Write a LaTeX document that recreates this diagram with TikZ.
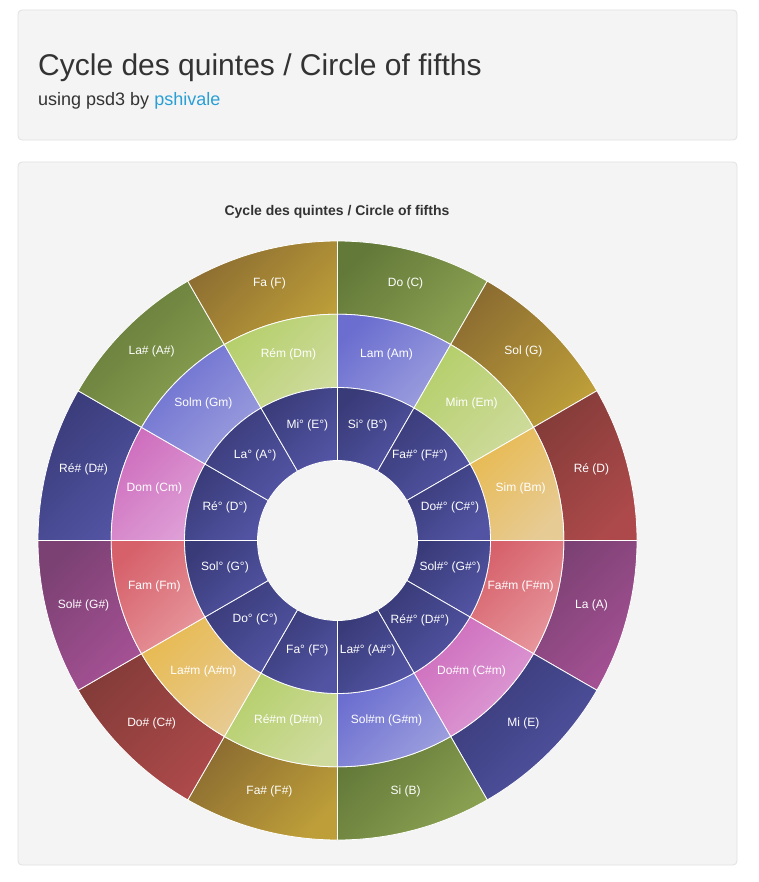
\documentclass[tikz,border=0pt]{standalone}
\usepackage{fontspec}
\setmainfont{Liberation Sans}
\usetikzlibrary{positioning}
\definecolor{wellbg}{HTML}{F4F4F4}
\definecolor{wellline}{HTML}{E1E1E1}
\definecolor{inktext}{HTML}{333333}
\definecolor{linkblue}{HTML}{2A9FD6}
\definecolor{greenA}{HTML}{637939}
\definecolor{greenB}{HTML}{8CA252}
\definecolor{goldA}{HTML}{8C6D31}
\definecolor{goldB}{HTML}{BD9E39}
\definecolor{redA}{HTML}{843C39}
\definecolor{redB}{HTML}{AD494A}
\definecolor{purpA}{HTML}{7B4173}
\definecolor{purpB}{HTML}{A55194}
\definecolor{blueA}{HTML}{393B79}
\definecolor{blueB}{HTML}{5254A3}
\definecolor{lavA}{HTML}{6B6ECF}
\definecolor{lavB}{HTML}{9C9EDE}
\definecolor{limeA}{HTML}{B5CF6B}
\definecolor{limeB}{HTML}{CEDB9C}
\definecolor{sandA}{HTML}{E7BA52}
\definecolor{sandB}{HTML}{E7CB94}
\definecolor{roseA}{HTML}{D6616B}
\definecolor{roseB}{HTML}{E7969C}
\definecolor{pinkA}{HTML}{CE6DBD}
\definecolor{pinkB}{HTML}{DE9ED6}

\begin{document}
\begin{tikzpicture}[x=1pt, y=-1pt,
  panel/.style={draw=wellline, fill=wellbg, rounded corners=4pt, line width=0.8pt},
  slice/.style={draw=white, line width=0.8pt, top color=#1A, bottom color=#1B, shading angle=45},
  keylabel/.style={text=white, font=\fontsize{12}{14}\selectfont, inner sep=0pt, yshift=3pt}
]
  \useasboundingbox[fill=white] (0,0) rectangle (758,882);

  % Header panel
  \draw[panel] (18,10) rectangle (737,140);
  \node[anchor=base west, inner sep=0pt, text=inktext, font=\fontsize{30}{36}\selectfont] (pagetitle) at (38,76)
    {Cycle des quintes / Circle of fifths};
  \node[anchor=base west, inner sep=0pt, text=inktext, font=\fontsize{18}{22}\selectfont] (byline) at (38,106)
    {using psd3 by \textcolor{linkblue}{pshivale}};

  % Chart panel
  \draw[panel] (18,162) rectangle (737,865);
  \node[anchor=base, inner sep=0pt, text=inktext, font=\bfseries\fontsize{14}{17}\selectfont] (charttitle) at (337,216)
    {Cycle des quintes / Circle of fifths};

  \coordinate (wheel) at (337.5,540.5);
  \begin{scope}[shift={(wheel)}]
    % Outer ring: major keys
    \foreach \lbl/\col [count=\i from 0] in {Do (C)/green, Sol (G)/gold, Ré (D)/red, La (A)/purp, Mi (E)/blue,
        Si (B)/green, Fa\# (F\#)/gold, Do\# (C\#)/red, Sol\# (G\#)/purp, Ré\# (D\#)/blue, La\# (A\#)/green, Fa (F)/gold} {
      \pgfmathsetmacro\a{-90+30*\i}
      \pgfmathsetmacro\b{\a+30}
      \pgfmathsetmacro\m{\a+15}
      \path[slice=\col] (\a:226.3) -- (\a:299.5) arc[start angle=\a, end angle=\b, radius=299.5]
        -- (\b:226.3) arc[start angle=\b, end angle=\a, radius=226.3] -- cycle;
      \node[keylabel] (major\i) at (\m:262.9) {\lbl};
    }
    % Middle ring: minor keys
    \foreach \lbl/\col [count=\i from 0] in {Lam (Am)/lav, Mim (Em)/lime, Sim (Bm)/sand, Fa\#m (F\#m)/rose, Do\#m (C\#m)/pink,
        Sol\#m (G\#m)/lav, Ré\#m (D\#m)/lime, La\#m (A\#m)/sand, Fam (Fm)/rose, Dom (Cm)/pink, Solm (Gm)/lav, Rém (Dm)/lime} {
      \pgfmathsetmacro\a{-90+30*\i}
      \pgfmathsetmacro\b{\a+30}
      \pgfmathsetmacro\m{\a+15}
      \path[slice=\col] (\a:153) -- (\a:226.3) arc[start angle=\a, end angle=\b, radius=226.3]
        -- (\b:153) arc[start angle=\b, end angle=\a, radius=153] -- cycle;
      \node[keylabel] (minor\i) at (\m:189.6) {\lbl};
    }
    % Inner ring: diminished
    \foreach \lbl [count=\i from 0] in {Si° (B°), Fa\#° (F\#°), Do\#° (C\#°), Sol\#° (G\#°), Ré\#° (D\#°), La\#° (A\#°),
        Fa° (F°), Do° (C°), Sol° (G°), Ré° (D°), La° (A°), Mi° (E°)} {
      \pgfmathsetmacro\a{-90+30*\i}
      \pgfmathsetmacro\b{\a+30}
      \pgfmathsetmacro\m{\a+15}
      \path[slice=blue] (\a:80) -- (\a:153) arc[start angle=\a, end angle=\b, radius=153]
        -- (\b:80) arc[start angle=\b, end angle=\a, radius=80] -- cycle;
      \node[keylabel] (dim\i) at (\m:116.5) {\lbl};
    }
  \end{scope}
\end{tikzpicture}
\end{document}
